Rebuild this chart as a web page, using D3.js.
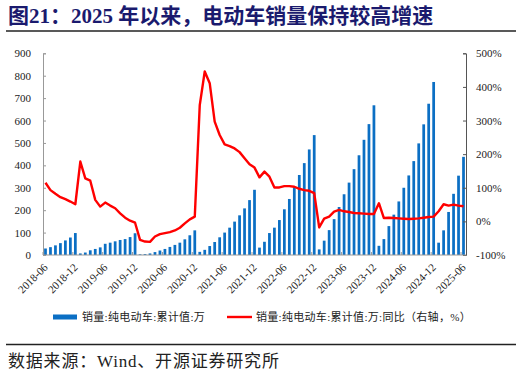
<!DOCTYPE html>
<html>
<head>
<meta charset="utf-8">
<script src="https://cdn.jsdelivr.net/npm/d3@7"></script>
<style>
  body { margin: 0; background: #fff; }
  svg { display: block; }
</style>
</head>
<body>
<svg id="chart" width="521" height="374"></svg>
<script>
// 月度类目 2018-06 ~ 2025-06
let months = d3.timeMonths(new Date(2018, 5, 1), new Date(2025, 6, 1)).map(d3.timeFormat('%Y-%m'))

// 销量:纯电动车:累计值 (万辆)
let sales = [
    29, 35, 43, 53, 65, 78, 98,
    7, 11, 21, 27, 34, 50, 55, 61, 67, 71, 80, 97,
    3, 4, 7, 13, 20, 27, 36, 45, 55, 70, 88, 110,
    14, 23, 40, 58, 79, 100, 122, 149, 177, 208, 245, 291,
    33, 59, 98, 122, 156, 204, 250, 302, 357, 410, 471, 535,
    25, 64, 111, 160, 214, 271, 323, 383, 445, 514, 584, 668,
    41, 71, 129, 180, 239, 300, 355, 419, 498, 583, 675, 772,
    55, 110, 192, 273, 354, 438
]

// 累计值同比 (%)
let yoy = [
    115, 93, 82, 72, 66, 59, 51,
    178, 128, 121, 64, 44, 56, 47, 39, 24, 11, 2, -4,
    -55, -60, -61, -45, -38, -35, -32, -27, -19, -6, 6, 14,
    346, 446, 411, 297, 257, 229, 224, 217, 206, 188, 170, 160,
    131, 148, 133, 101, 101, 105, 105, 103, 97, 93, 91, 84,
    -18, 8, 14, 29, 34, 30, 28, 25, 24, 23, 22, 22,
    54, 10, 11, 10, 9, 8, 7, 8, 9, 11, 13, 14,
    30, 51, 47, 50, 47, 45
]

let xLabels = ['2018-06', '2018-12', '2019-06', '2019-12', '2020-06', '2020-12', '2021-06', '2021-12',
    '2022-06', '2022-12', '2023-06', '2023-12', '2024-06', '2024-12', '2025-06']
let leftTicks = [0, 100, 200, 300, 400, 500, 600, 700, 800, 900]
let rightTicks = [-100, 0, 100, 200, 300, 400, 500]

let data = months.map((m, i) => ({ month: m, sales: sales[i], yoy: yoy[i] }))

let svg = d3.select('#chart')
let serif = '"Times New Roman", "Liberation Serif", "Noto Sans CJK SC", serif'
let cjk = '"Times New Roman", "Liberation Serif", "Noto Sans CJK SC", sans-serif'

// 标题
svg.append('text')
    .attr('x', 8)
    .attr('y', 23)
    .attr('font-family', cjk)
    .attr('font-size', 21)
    .attr('font-weight', 'bold')
    .attr('fill', '#1a1a6e')
    .text('图21：2025 年以来，电动车销量保持较高增速')

svg.append('line')
    .attr('x1', 6).attr('x2', 516)
    .attr('y1', 31).attr('y2', 31)
    .attr('stroke', '#222')
    .attr('stroke-width', 1.3)

let plotL = 43, plotR = 466, plotT = 53.3, plotB = 255

let x = d3.scaleBand()
    .domain(months)
    .range([plotL, plotR])
    .paddingInner(0.45)
    .paddingOuter(0.225)

let yL = d3.scaleLinear().domain([0, 900]).range([plotB, plotT])
let yR = d3.scaleLinear().domain([-100, 500]).range([plotB, plotT])

// 柱
svg.append('g')
    .selectAll('rect')
    .data(data)
    .enter()
    .append('rect')
    .attr('x', d => x(d.month))
    .attr('width', x.bandwidth())
    .attr('y', d => yL(d.sales))
    .attr('height', d => yL(0) - yL(d.sales))
    .attr('fill', '#0b6fc4')

// 左轴
let gL = svg.append('g')
    .attr('transform', `translate(${plotL},0)`)
    .call(d3.axisLeft(yL).tickValues(leftTicks).tickSize(-3).tickPadding(12))
gL.select('.domain').attr('stroke', '#999')
gL.selectAll('.tick line').attr('stroke', '#999')
gL.selectAll('text').attr('font-family', serif).attr('font-size', 11).attr('fill', '#222')

// 右轴
let gR = svg.append('g')
    .attr('transform', `translate(${plotR},0)`)
    .call(d3.axisRight(yR).tickValues(rightTicks).tickSize(-3).tickPadding(10).tickFormat(d => d + '%'))
gR.select('.domain').attr('stroke', '#555')
gR.selectAll('.tick line').attr('stroke', '#555')
gR.selectAll('text').attr('font-family', serif).attr('font-size', 11).attr('fill', '#222')

// 横轴
svg.append('line')
    .attr('x1', plotL).attr('x2', plotR)
    .attr('y1', plotB).attr('y2', plotB)
    .attr('stroke', '#999')

let step = x.step()
svg.append('g')
    .selectAll('line')
    .data(xLabels)
    .enter()
    .append('line')
    .attr('x1', d => x(d) - (step - x.bandwidth()) / 2)
    .attr('x2', d => x(d) - (step - x.bandwidth()) / 2)
    .attr('y1', plotB)
    .attr('y2', plotB - 3)
    .attr('stroke', '#999')

svg.append('g')
    .selectAll('text')
    .data(xLabels)
    .enter()
    .append('text')
    .attr('transform', d => `translate(${x(d) + x.bandwidth() / 2 + 3},268) rotate(-45)`)
    .attr('text-anchor', 'end')
    .attr('font-family', serif)
    .attr('font-size', 11)
    .attr('fill', '#222')
    .text(d => d)

// 同比折线
let line = d3.line()
    .x(d => x(d.month) + x.bandwidth() / 2)
    .y(d => yR(d.yoy))

svg.append('path')
    .datum(data)
    .attr('d', line)
    .attr('fill', 'none')
    .attr('stroke', '#ff0000')
    .attr('stroke-width', 2.4)
    .attr('stroke-linejoin', 'round')

// 图例
let legend = svg.append('g')
    .attr('font-family', cjk)
    .attr('font-size', 11)
    .attr('letter-spacing', 0.3)
    .attr('fill', '#222')
legend.append('rect')
    .attr('x', 53).attr('y', 314.5)
    .attr('width', 24).attr('height', 5)
    .attr('fill', '#0b6fc4')
legend.append('text')
    .attr('x', 82).attr('y', 321)
    .text('销量:纯电动车:累计值:万')
legend.append('line')
    .attr('x1', 227).attr('x2', 252)
    .attr('y1', 317).attr('y2', 317)
    .attr('stroke', '#ff0000')
    .attr('stroke-width', 2.4)
legend.append('text')
    .attr('x', 256).attr('y', 321)
    .text('销量:纯电动车:累计值:万:同比（右轴，%）')

// 底部
svg.append('line')
    .attr('x1', 6).attr('x2', 516)
    .attr('y1', 344.5).attr('y2', 344.5)
    .attr('stroke', '#222')
    .attr('stroke-width', 1.3)

svg.append('text')
    .attr('x', 8)
    .attr('y', 367)
    .attr('font-family', cjk)
    .attr('font-size', 17)
    .attr('letter-spacing', 0.8)
    .attr('fill', '#222')
    .text('数据来源：Wind、开源证券研究所')
</script>
</body>
</html>
